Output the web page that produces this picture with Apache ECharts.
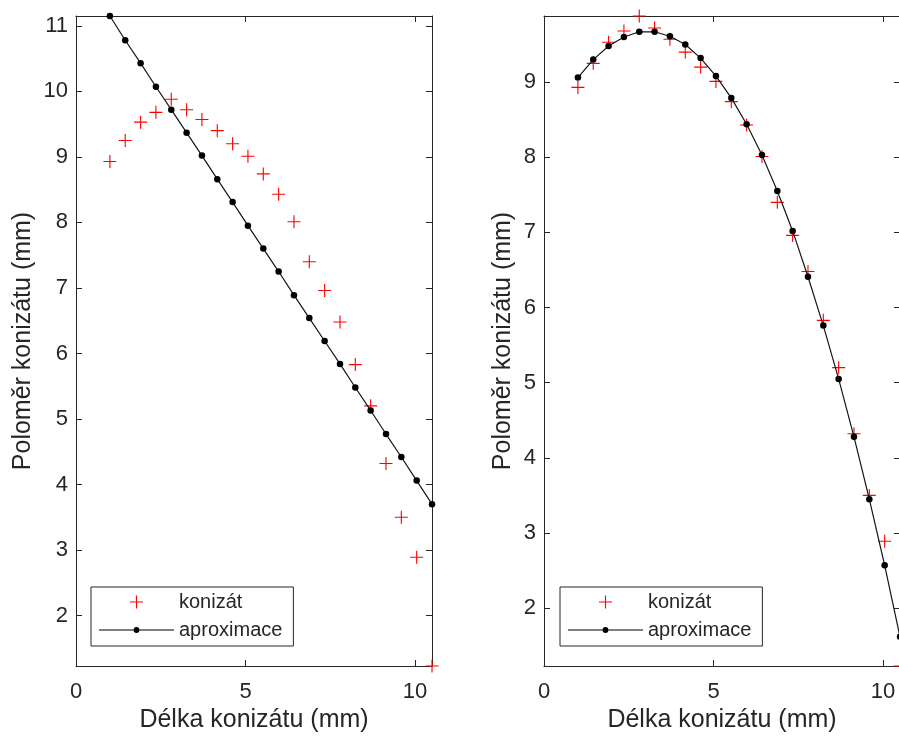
<!DOCTYPE html>
<html>
<head>
<meta charset="utf-8">
<script src="https://cdn.jsdelivr.net/npm/echarts@6/dist/echarts.min.js"></script>
<style>
html,body{margin:0;padding:0;background:#fff;}
#c{width:899px;height:736px;}
</style>
</head>
<body>
<div id="c"></div>
<script>
// ---- data ----
const delka = [1.000, 1.452, 1.905, 2.357, 2.810, 3.262, 3.714, 4.167, 4.619, 5.071, 5.524,
               5.976, 6.429, 6.881, 7.333, 7.786, 8.238, 8.690, 9.143, 9.595, 10.048, 10.500];
const konizat = [8.93, 9.25, 9.53, 9.68, 9.88, 9.72, 9.57, 9.40, 9.20, 9.01, 8.74,
                 8.43, 8.01, 7.40, 6.96, 6.48, 5.83, 5.20, 4.32, 3.50, 2.89, 1.23];
const aproxLinearni = [11.15, 10.78, 10.43, 10.07, 9.72, 9.37, 9.02, 8.66, 8.31, 7.95, 7.60,
                       7.25, 6.89, 6.54, 6.19, 5.84, 5.48, 5.13, 4.77, 4.42, 4.06, 3.70];
const aproxKvadraticka = [9.06, 9.30, 9.48, 9.60, 9.67, 9.67, 9.61, 9.50, 9.32, 9.08, 8.79,
                          8.44, 8.03, 7.55, 7.02, 6.41, 5.76, 5.05, 4.28, 3.45, 2.57, 1.62];
const xTicks = [0, 5, 10];
const yTicksLeft = [2, 3, 4, 5, 6, 7, 8, 9, 10, 11];
const yTicksRight = [2, 3, 4, 5, 6, 7, 8, 9];
const xName = 'Délka konizátu (mm)';
const yName = 'Poloměr konizátu (mm)';
const nameMeasured = 'konizát';
const nameFit = 'aproximace';

// ---- styling ----
const TXT = '#262626';
const FONT = '"Liberation Sans", Arial, Helvetica, sans-serif';
const PLUS = 'path://M12.8,0H15.2V12.8H28V15.2H15.2V28H12.8V15.2H0V12.8H12.8Z';
const LINEDOT = 'path://M0,2.4H34.9V3.4H0Z M40.1,2.4H75V3.4H40.1Z M34.6,2.9A2.9,2.9 0 1 1 40.4,2.9A2.9,2.9 0 1 1 34.6,2.9Z';

const pairs = (xs, ys) => xs.map((x, i) => [x, ys[i]]);
const lo = (...arrs) => Math.min(...arrs.flat());
const hi = (...arrs) => Math.max(...arrs.flat());

function axisLine() { return { show: true, onZero: false, lineStyle: { color: TXT, width: 1 } }; }
function tick(vals) { return { show: true, inside: true, length: 6, customValues: vals, lineStyle: { color: TXT, width: 1 } }; }

function xAxes(g) {
  const base = { type: 'value', gridIndex: g, min: 0, max: 10.5, splitLine: { show: false } };
  return [
    Object.assign({}, base, {
      position: 'bottom', name: xName, nameLocation: 'middle', nameGap: 30,
      nameTextStyle: { fontSize: 25, color: TXT, fontFamily: FONT },
      axisLine: axisLine(), axisTick: tick(xTicks),
      axisLabel: { show: true, customValues: xTicks, margin: 15, fontSize: 22, color: TXT, fontFamily: FONT }
    }),
    Object.assign({}, base, {
      position: 'top', axisLine: axisLine(), axisTick: tick(xTicks), axisLabel: { show: false }
    })
  ];
}
function yAxes(g, mn, mx, ticks, gap) {
  const base = { type: 'value', gridIndex: g, min: mn, max: mx, splitLine: { show: false } };
  return [
    Object.assign({}, base, {
      position: 'left', name: yName, nameLocation: 'middle', nameGap: gap,
      nameTextStyle: { fontSize: 25, color: TXT, fontFamily: FONT },
      axisLine: axisLine(), axisTick: tick(ticks),
      axisLabel: { show: true, customValues: ticks, margin: 8, fontSize: 22, color: TXT, fontFamily: FONT }
    }),
    Object.assign({}, base, {
      position: 'right', axisLine: axisLine(), axisTick: tick(ticks), axisLabel: { show: false }
    })
  ];
}
function legend(left) {
  return {
    orient: 'vertical', left: left, top: 587,
    data: [{ name: nameMeasured }, { name: nameFit, icon: LINEDOT }],
    itemWidth: 75, itemHeight: 13, itemGap: 8,
    padding: [5, 11, 6, 8],
    borderColor: TXT, borderWidth: 1, borderRadius: 0, backgroundColor: '#fff',
    textStyle: { fontSize: 20, color: TXT, fontFamily: FONT },
    itemStyle: { borderWidth: 0 },
    symbolKeepAspect: true, selectedMode: false
  };
}
function measured(xi, yi) {
  return {
    type: 'scatter', name: nameMeasured, xAxisIndex: xi, yAxisIndex: yi,
    data: pairs(delka, konizat), symbol: PLUS, symbolSize: 13, clip: false,
    itemStyle: { color: '#ff0000', opacity: 1 }, emphasis: { disabled: true }, z: 2
  };
}
function fit(xi, yi, vals) {
  return {
    type: 'line', name: nameFit, xAxisIndex: xi, yAxisIndex: yi,
    data: pairs(delka, vals), symbol: 'circle', symbolSize: 6.5, showSymbol: true, showAllSymbol: true,
    lineStyle: { color: '#151515', width: 1.2 }, itemStyle: { color: '#000', borderWidth: 0 },
    emphasis: { disabled: true }, clip: true, z: 3
  };
}

const chart = echarts.init(document.getElementById('c'), null, { renderer: 'canvas' });
chart.setOption({
  animation: false,
  backgroundColor: '#ffffff',
  textStyle: { fontFamily: FONT },
  grid: [
    { left: 76, right: 467, top: 16, bottom: 70, outerBoundsMode: 'none', containLabel: false },
    { left: 544, right: -1, top: 16, bottom: 70, outerBoundsMode: 'none', containLabel: false }
  ],
  xAxis: [...xAxes(0), ...xAxes(1)],
  yAxis: [
    ...yAxes(0, lo(konizat, aproxLinearni), hi(konizat, aproxLinearni), yTicksLeft, 40),
    ...yAxes(1, lo(konizat, aproxKvadraticka), hi(konizat, aproxKvadraticka), yTicksRight, 28)
  ],
  legend: [legend(91), legend(560)],
  series: [
    measured(0, 0), fit(0, 0, aproxLinearni),
    measured(2, 2), fit(2, 2, aproxKvadraticka)
  ]
});
</script>
</body>
</html>
